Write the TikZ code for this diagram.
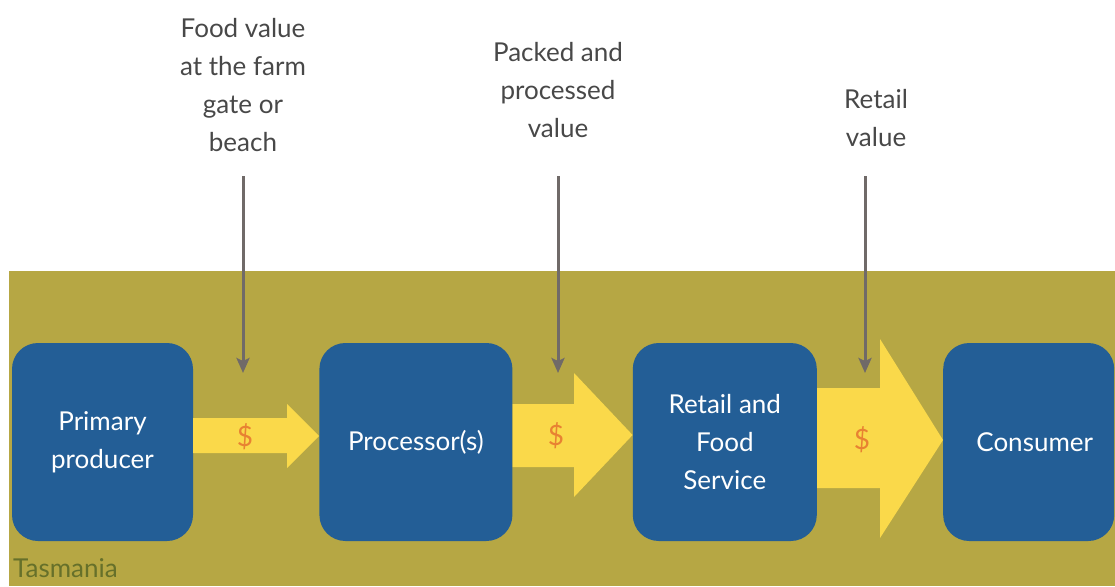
\documentclass[tikz,border=0pt]{standalone}
\usepackage{fontspec}
\setmainfont{Lato}
\usetikzlibrary{positioning}
\usetikzlibrary{arrows.meta}
\definecolor{bandolive}{RGB}{182,167,68}
\definecolor{stageblue}{RGB}{35,94,150}
\definecolor{flowyellow}{RGB}{250,217,74}
\definecolor{moneyorange}{RGB}{232,130,50}
\definecolor{lblgrey}{RGB}{72,72,72}
\definecolor{arrowgrey}{RGB}{112,106,104}
\definecolor{tasgreen}{RGB}{102,112,42}
\tikzset{stage/.style={fill=stageblue,rounded corners=26pt,text=white,align=center,inner sep=0pt,minimum height=198pt,font=\fontsize{26}{38}\selectfont}}
\tikzset{valuelbl/.style={align=center,text=lblgrey,inner sep=0pt,font=\fontsize{26}{38}\selectfont}}
\tikzset{valarrow/.style={->,draw=arrowgrey,line width=3pt}}
\tikzset{flow/.style={fill=flowyellow}}
\tikzset{money/.style={text=moneyorange,inner sep=0pt,font=\fontsize{28}{32}\selectfont}}
\tikzset{>={Stealth[length=15pt,width=13pt,inset=3pt]}}

\begin{document}
\begin{tikzpicture}[x=1pt,y=-1pt]
        \useasboundingbox (0,0) rectangle (1115,586);
        \fill[bandolive] (9,271) rectangle (1115,586);

        \node[stage,minimum width=181pt] (prod) at (102.5,442) {Primary\\producer};
        \node[stage,minimum width=193pt,right=126pt of prod] (proc) {Processor(s)};
        \node[stage,minimum width=184pt,right=120pt of proc] (retail) {Retail and\\Food\\Service};
        \node[stage,minimum width=171pt,right=126pt of retail] (cons) {\hspace*{12pt}Consumer};

        % money flowing along the chain
        \fill[flow] (prod.east |- 0,418) -- (287,418) -- (287,404) -- (proc.west |- 0,436)
            -- (287,468) -- (287,453) -- (prod.east |- 0,453) -- cycle;
        \fill[flow] (proc.east |- 0,404) -- (574,404) -- (574,373) -- (retail.west |- 0,435)
            -- (574,497) -- (574,467) -- (proc.east |- 0,467) -- cycle;
        \fill[flow] (retail.east |- 0,388) -- (880,388) -- (880,339) -- (cons.west |- 0,440)
            -- (880,538) -- (880,488) -- (retail.east |- 0,488) -- cycle;

        \node[money] (d1) at (245,437) {\$};
        \node[money] (d2) at (556,436) {\$};
        \node[money] (d3) at (862,440) {\$};

        \node[valuelbl] (farm) at (243,85) {Food value\\at the farm\\gate or\\beach};
        \node[valuelbl] (packed) at (558,90) {Packed and\\processed\\value};
        \node[valuelbl] (retval) at (876,118) {Retail\\value};

        \coordinate (farmtop) at (243,176);
        \coordinate (farmin) at (243,373);
        \coordinate (packtop) at (558,176);
        \coordinate (packin) at (558,373);
        \coordinate (rettop) at (865,176);
        \coordinate (retin) at (865,373);
        \draw[valarrow] (farmtop) -- (farmin);
        \draw[valarrow] (packtop) -- (packin);
        \draw[valarrow] (rettop) -- (retin);

        \node[anchor=west,text=tasgreen,inner sep=0pt,font=\fontsize{26}{30}\selectfont] (tas) at (13,568) {Tasmania};
    \end{tikzpicture}
\end{document}
